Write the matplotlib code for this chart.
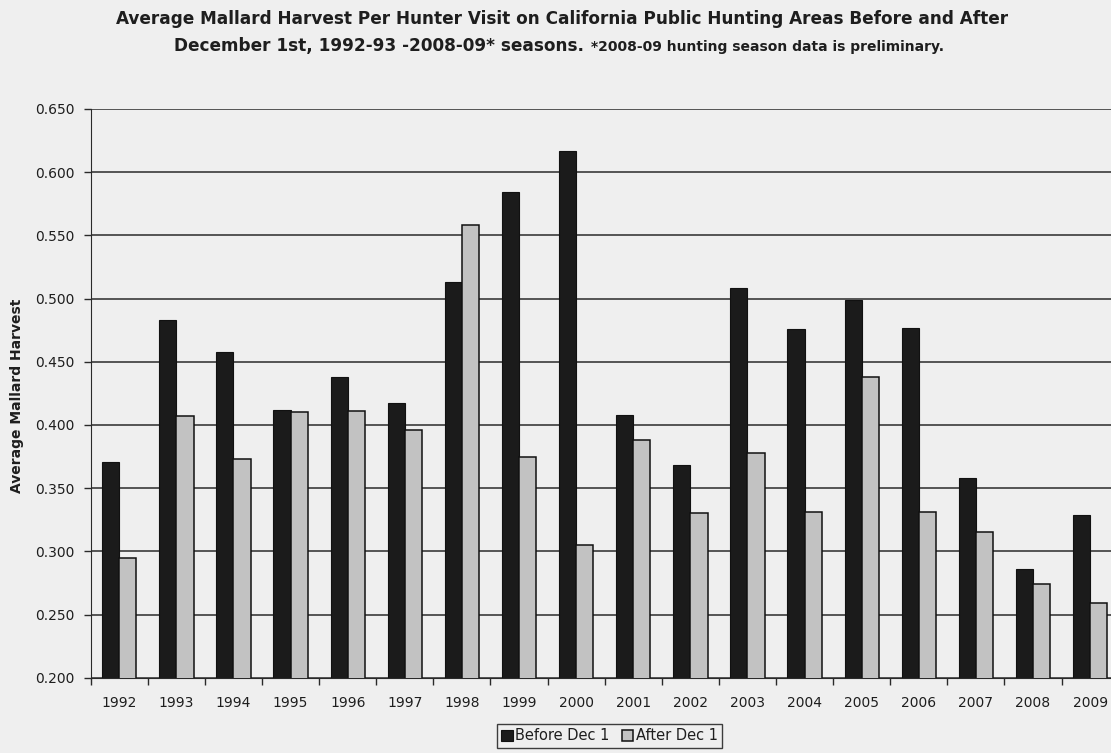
import matplotlib
matplotlib.use('Agg')
from matplotlib import pyplot as plt
from matplotlib.ticker import FixedLocator, FormatStrFormatter
import numpy as np

# seasons (start year) and average mallards per hunter visit
years = ['1992', '1993', '1994', '1995', '1996', '1997', '1998', '1999', '2000',
         '2001', '2002', '2003', '2004', '2005', '2006', '2007', '2008', '2009']
beforeDec1 = [0.371, 0.483, 0.458, 0.412, 0.438, 0.417, 0.513, 0.584, 0.617,
              0.408, 0.368, 0.508, 0.476, 0.499, 0.477, 0.358, 0.286, 0.329]
afterDec1 = [0.295, 0.407, 0.373, 0.410, 0.411, 0.396, 0.558, 0.375, 0.305,
             0.388, 0.330, 0.378, 0.331, 0.438, 0.331, 0.315, 0.274, 0.259]
yTicks = [0.200, 0.250, 0.300, 0.350, 0.400, 0.450, 0.500, 0.550, 0.600, 0.650]

paper = '#efefef'
ink = '#1e1e1e'
plt.rcParams['font.family'] = ['DejaVu Sans']
plt.rcParams['text.color'] = ink

fig = plt.figure(figsize=(11.11, 7.53), dpi=100, facecolor=paper)
W, H = 1111, 753
ax = fig.add_axes([90.7 / W, 75.3 / H, 1028 / W, 568.7 / H], facecolor=paper)

x = np.arange(len(years))
barWidth = 0.3
ax.bar(x - barWidth / 2, beforeDec1, width=barWidth, color='#1b1b1b',
       edgecolor='#111111', linewidth=0.8, label='Before Dec 1', zorder=3)
ax.bar(x + barWidth / 2, afterDec1, width=barWidth, color='#c2c2c2',
       edgecolor='#111111', linewidth=1.1, label='After Dec 1', zorder=3)

ax.set_xlim(-0.5, len(years) - 0.5)
ax.set_ylim(0.2, 0.65)

ax.yaxis.set_major_locator(FixedLocator(yTicks))
ax.yaxis.set_major_formatter(FormatStrFormatter('%.3f'))
ax.yaxis.grid(True, color='#2a2a2a', linewidth=1.1, zorder=1)
ax.set_axisbelow(True)

ax.set_xticks(x)
ax.set_xticklabels(years)
ax.xaxis.set_minor_locator(FixedLocator(np.arange(-0.5, len(years), 1.0)))
ax.tick_params(axis='x', which='major', length=0, pad=13, labelsize=10,
               labelcolor=ink)
ax.tick_params(axis='x', which='minor', length=5, width=1, direction='out',
               color='#2a2a2a')
ax.tick_params(axis='y', length=5, width=1, direction='out', pad=6.5,
               labelsize=10, labelcolor=ink, color='#2a2a2a')

for side in ['top', 'right']:
    ax.spines[side].set_visible(False)
ax.spines['left'].set_color('#2a2a2a')
ax.spines['bottom'].set_color('#2a2a2a')

fig.text(17 / W, 1 - 396 / H, 'Average Mallard Harvest', rotation=90,
         ha='center', va='center', fontsize=10, fontweight='bold')

fig.text(562 / W, 1 - 24 / H,
         'Average Mallard Harvest Per Hunter Visit on California Public Hunting Areas Before and After',
         ha='center', va='baseline', fontsize=12.2, fontweight='bold')
fig.text(584 / W, 1 - 51 / H, 'December 1st, 1992-93 -2008-09* seasons.',
         ha='right', va='baseline', fontsize=12.2, fontweight='bold')
fig.text(591 / W, 1 - 51 / H, '*2008-09 hunting season data is preliminary.',
         ha='left', va='baseline', fontsize=10, fontweight='bold')

leg = fig.legend(loc='center', bbox_to_anchor=(609.5 / W, 1 - 736 / H), ncol=2,
                 frameon=True, fancybox=False, edgecolor='#111111', facecolor=paper,
                 fontsize=10.5, handlelength=0.8, handleheight=0.8, handletextpad=0.2,
                 columnspacing=0.8, borderpad=0.3, borderaxespad=0)
leg.get_frame().set_linewidth(1.0)

plt.savefig('out.png', dpi=100, facecolor=paper)
plt.close()
